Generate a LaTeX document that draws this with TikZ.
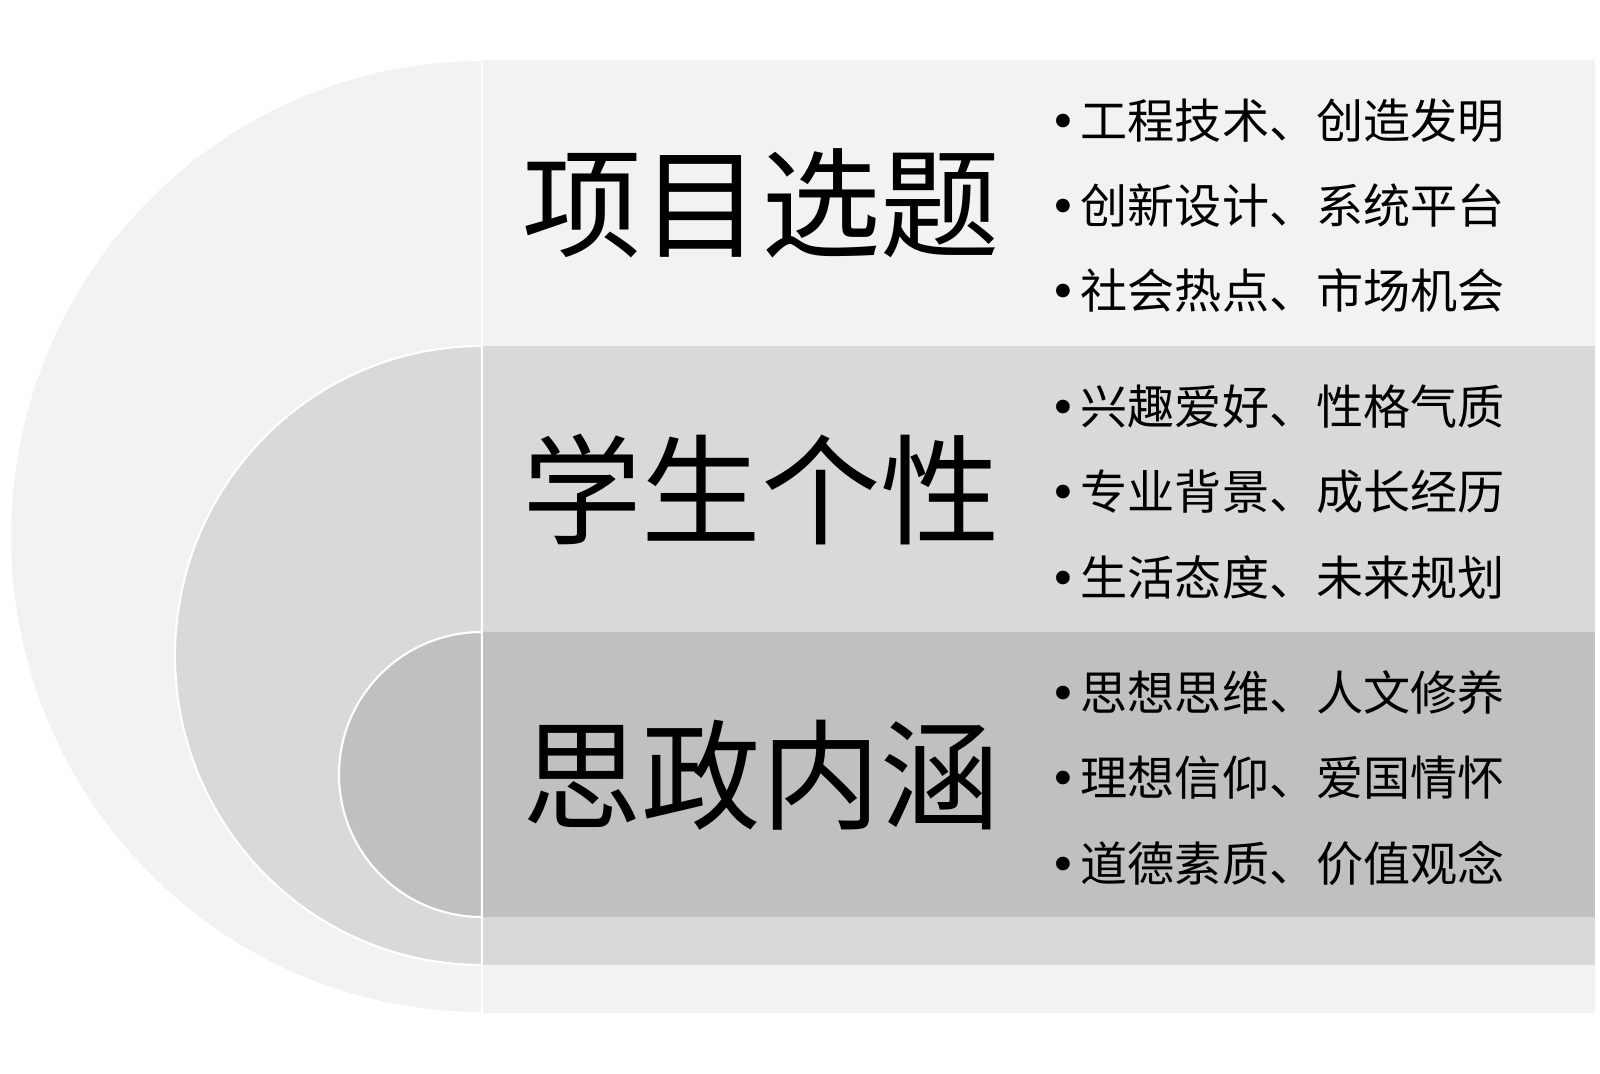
\documentclass[tikz,border=0pt]{standalone}
\usepackage{fontspec}
\setmainfont{Noto Sans CJK SC}
\newfontfamily\dotfont{DejaVu Sans}
\usepackage{tikz}
\definecolor{BandOuter}{HTML}{F2F2F2}
\definecolor{BandMid}{HTML}{D9D9D9}
\definecolor{BandInner}{HTML}{C0C0C0}
\newcommand{\itemdot}{\makebox[0.24cm][l]{\hspace{-0.07cm}{\dotfont •}}}

\begin{document}
\begin{tikzpicture}[x=1cm,y=1cm,
  arcband/.style={draw=white,line width=0.6pt},
  title/.style={anchor=center,inner sep=0pt,font=\fontsize{34}{34}\selectfont},
  item/.style={anchor=west,inner sep=0pt,font=\fontsize{13.4}{13.4}\selectfont}]
\path[use as bounding box] (0,0) rectangle (16.00,10.73);
% outer band
\filldraw[BandOuter,arcband] (4.82,10.13) arc[start angle=90,end angle=270,x radius=4.72,y radius=4.765] -- cycle;
\fill[BandOuter] (4.82,0.60) rectangle (15.95,10.13);
% middle band
\filldraw[BandMid,arcband] (4.82,7.27) arc[start angle=90,end angle=270,x radius=3.07,y radius=3.095] -- cycle;
\fill[BandMid] (4.82,1.08) rectangle (15.95,7.27);
% inner band
\filldraw[BandInner,arcband] (4.82,4.41) arc[start angle=90,end angle=270,x radius=1.43,y radius=1.425] -- cycle;
\fill[BandInner] (4.82,1.56) rectangle (15.95,4.41);
\draw[white,line width=0.7pt] (4.82,10.13) -- (4.82,0.60);
\node[title] (topic) at (7.61,8.70) {项目选题};
\node[title] (person) at (7.61,5.84) {学生个性};
\node[title] (ideo) at (7.61,2.98) {思政内涵};
\node[item] (topicA) at (10.56,9.52) {\itemdot 工程技术、创造发明};
\node[item] (topicB) at (10.56,8.67) {\itemdot 创新设计、系统平台};
\node[item] (topicC) at (10.56,7.82) {\itemdot 社会热点、市场机会};
\node[item] (personA) at (10.56,6.66) {\itemdot 兴趣爱好、性格气质};
\node[item] (personB) at (10.56,5.81) {\itemdot 专业背景、成长经历};
\node[item] (personC) at (10.56,4.96) {\itemdot 生活态度、未来规划};
\node[item] (ideoA) at (10.56,3.80) {\itemdot 思想思维、人文修养};
\node[item] (ideoB) at (10.56,2.95) {\itemdot 理想信仰、爱国情怀};
\node[item] (ideoC) at (10.56,2.10) {\itemdot 道德素质、价值观念};
\end{tikzpicture}
\end{document}
